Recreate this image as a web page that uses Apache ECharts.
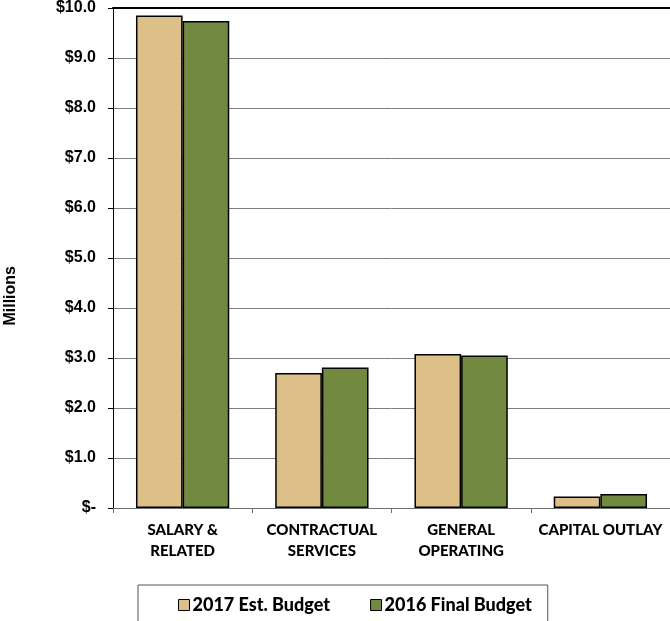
<!DOCTYPE html>
<html>
<head>
<meta charset="utf-8">
<script src="https://cdn.jsdelivr.net/npm/echarts@6/dist/echarts.min.js"></script>
<style>
  html, body { margin: 0; padding: 0; background: #ffffff; }
  #chart { width: 670px; height: 621px; }
</style>
</head>
<body>
<div id="chart"></div>
<script>
// Budget comparison by expense category (in millions of dollars)
const categories = ['SALARY &\nRELATED', 'CONTRACTUAL\nSERVICES', 'GENERAL\nOPERATING', 'CAPITAL OUTLAY'];
const seriesNames = ['2017 Est. Budget', '2016 Final Budget'];
const estBudget2017 = [9.85, 2.70, 3.08, 0.23];
const finalBudget2016 = [9.74, 2.81, 3.05, 0.28];
const yTickLabels = ['$-', '$1.0', '$2.0', '$3.0', '$4.0', '$5.0', '$6.0', '$7.0', '$8.0', '$9.0', '$10.0'];

const TAN = '#DCC087';
const GREEN = '#718A3F';
const labelFont = 'Lato, "Open Sans", sans-serif';
const axisFont = '"Liberation Sans", Arial, sans-serif';

const chart = echarts.init(document.getElementById('chart'), null, { renderer: 'canvas' });

chart.setOption({
  animation: false,
  backgroundColor: '#ffffff',
  grid: { left: 113, top: 8, width: 560, height: 500, containLabel: false },
  legend: {
    left: 138,
    top: 585,
    data: seriesNames,
    itemWidth: 11,
    itemHeight: 11,
    itemGap: 40,
    icon: 'rect',
    padding: [11, 16, 22, 40],
    backgroundColor: '#ffffff',
    borderColor: '#555555',
    borderWidth: 1,
    borderRadius: 0,
    itemStyle: { borderColor: '#000000', borderWidth: 1 },
    textStyle: { fontFamily: labelFont, fontWeight: 900, fontSize: 18, color: '#000000', padding: [0, 0, 0, -2] }
  },
  xAxis: [
    {
      type: 'category',
      data: categories,
      position: 'bottom',
      axisLine: { show: true, lineStyle: { color: '#6e6e6e', width: 1 } },
      axisTick: { show: true, length: 5, lineStyle: { color: '#6e6e6e' } },
      axisLabel: {
        interval: 0,
        margin: 12,
        fontFamily: labelFont,
        fontWeight: 900,
        fontSize: 15,
        lineHeight: 21,
        color: '#000000'
      },
      splitLine: { show: false }
    },
    {
      type: 'category',
      data: categories,
      position: 'top',
      axisLine: { show: true, lineStyle: { color: '#000000', width: 2 } },
      axisTick: { show: false },
      axisLabel: { show: false },
      splitLine: { show: false }
    }
  ],
  yAxis: {
    type: 'value',
    min: 0,
    max: 10,
    interval: 1,
    axisLine: { show: true, lineStyle: { color: '#000000', width: 1 } },
    axisTick: { show: true, inside: false, length: 5, lineStyle: { color: '#000000' } },
    axisLabel: {
      margin: 17,
      fontFamily: axisFont,
      fontWeight: 'bold',
      fontSize: 16,
      color: '#000000',
      formatter: function (v) { return yTickLabels[Math.round(v)]; }
    },
    splitLine: { show: true, lineStyle: { color: '#7f7f7f', width: 1 } }
  },
  graphic: [
    {
      type: 'text',
      left: 3,
      top: 266,
      rotation: Math.PI / 2,
      style: {
        text: 'Millions',
        font: 'bold 16px "Liberation Sans", Arial, sans-serif',
        fill: '#000000'
      }
    }
  ],
  series: [
    {
      name: seriesNames[0],
      type: 'bar',
      data: estBudget2017,
      barGap: '0%',
      barCategoryGap: '33%',
      itemStyle: { color: TAN, borderColor: '#000000', borderWidth: 1.5 }
    },
    {
      name: seriesNames[1],
      type: 'bar',
      data: finalBudget2016,
      barGap: '0%',
      barCategoryGap: '33%',
      itemStyle: { color: GREEN, borderColor: '#000000', borderWidth: 1.5 }
    }
  ]
});
</script>
</body>
</html>
